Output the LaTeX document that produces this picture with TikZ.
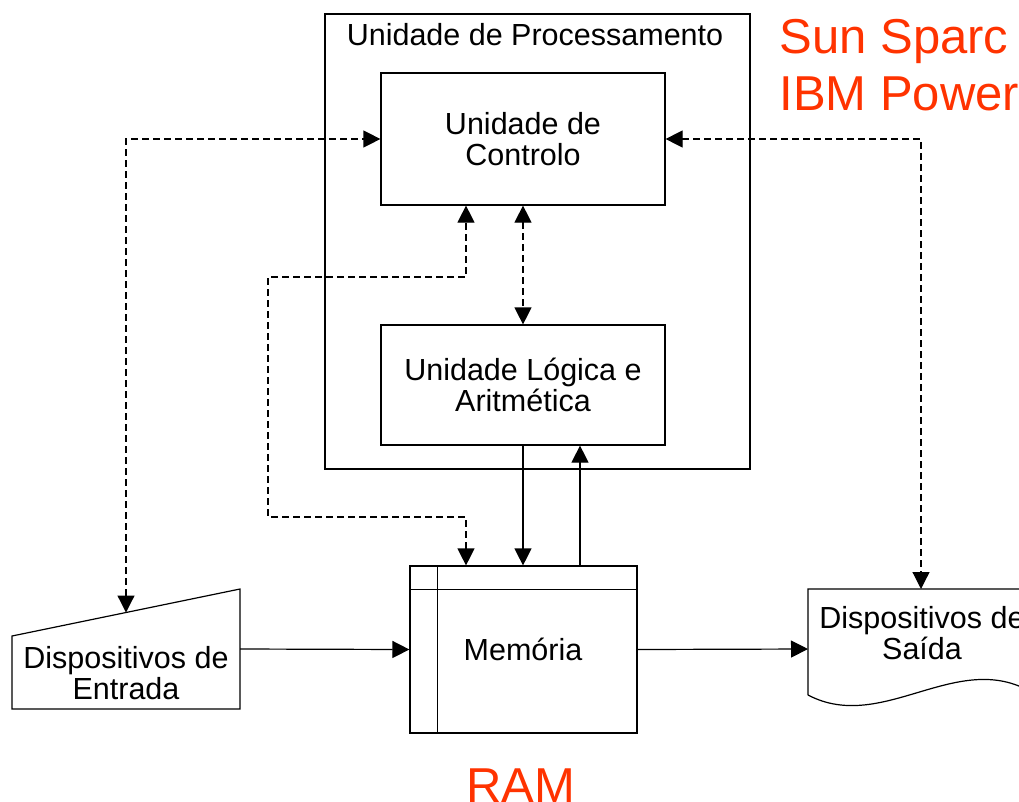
\documentclass[tikz,border=0pt]{standalone}
\usepackage{fontspec}
\setmainfont{Liberation Sans}
\usetikzlibrary{arrows.meta,calc}
\definecolor{redtxt}{RGB}{255,51,0}
\begin{document}
\begin{tikzpicture}[x=1pt,y=-1pt,
  line width=1.2pt,
  box/.style={draw,rectangle,inner sep=0pt,align=center,font=\fontsize{30.5}{31}\selectfont},
  lbl/.style={inner sep=0pt,align=center,font=\fontsize{30.5}{31}\selectfont},
  redlbl/.style={inner sep=0pt,anchor=base west,text=redtxt,font=\fontsize{49}{57}\selectfont},
  dsh/.style={dash pattern=on 7pt off 4pt},
  >={Triangle[length=17pt,width=17pt]}]
\clip (0,0) rectangle (1019,801);
\fill[white] (0,0) rectangle (1019,801);

% processing unit frame
\node[box,minimum width=425pt,minimum height=455pt] (proc) at (537.5,241.5) {};
\node[lbl,anchor=base] (proctitle) at (535,45) {Unidade de Processamento};

\node[box,minimum width=284pt,minimum height=132pt] (ctrl) at (523,139) {Unidade de\\Controlo};
\node[box,minimum width=284pt,minimum height=120pt] (ula) at (523,385) {Unidade Lógica e\\Aritmética};

% memory
\node[box,minimum width=227pt,minimum height=167pt] (mem) at (523.5,649.5) {};
\draw ($(mem.north west)+(28,0)$) -- ($(mem.south west)+(28,0)$);
\draw ($(mem.north west)+(0,24)$) -- ($(mem.north east)+(0,24)$);
\node[lbl] (memtxt) at (523,649) {Memória};

% input device (manual input)
\draw (12,636) -- (240,589) -- (240,709) -- (12,709) -- cycle;
\node[lbl] (entrada) at (126,673) {Dispositivos de\\Entrada};
\coordinate (entE) at (240,649);
\coordinate (entT) at (126,612.5);

% output device (document)
\draw (808,695) -- (808,589) -- (1036,589) -- (1036,695)
      .. controls (960,645) and (884,735) .. (808,695);
\node[lbl] (saida) at (922,633) {Dispositivos de\\Saída};
\coordinate (saiW) at (808,649);
\coordinate (saiT) at (921,589);

% dashed control connections
\draw[dsh,<->] (entT) |- (ctrl.west);
\draw[dsh,<->] (ctrl.east) -| (saiT);
\draw[dsh,<->] (ctrl.south) -- (ula.north);
\coordinate (memL) at ($(mem.north)+(-57.5,0)$);
\coordinate (ctrlL) at ($(ctrl.south)+(-57,0)$);
\coordinate (bendA) at (268,517);
\coordinate (bendB) at (466,277);
\draw[dsh,<->] (memL) |- (bendA) |- (bendB) -- (ctrlL);

% solid data connections
\draw[->] (ula.south) -- (ula.south |- mem.north);
\coordinate (memR) at ($(mem.north)+(56.5,0)$);
\coordinate (ulaR) at ($(ula.south)+(57,0)$);
\draw[->] (memR) -- (ulaR);
\draw[->] (entE) -- (mem.west);
\draw[->] (mem.east) -- (saiW);

% red labels
\node[redlbl] (sun) at (779,53) {Sun Sparc};
\node[redlbl] (ibm) at (779,110) {IBM PowerPC};
\node[redlbl] (ram) at (466,802) {RAM};
\end{tikzpicture}
\end{document}
